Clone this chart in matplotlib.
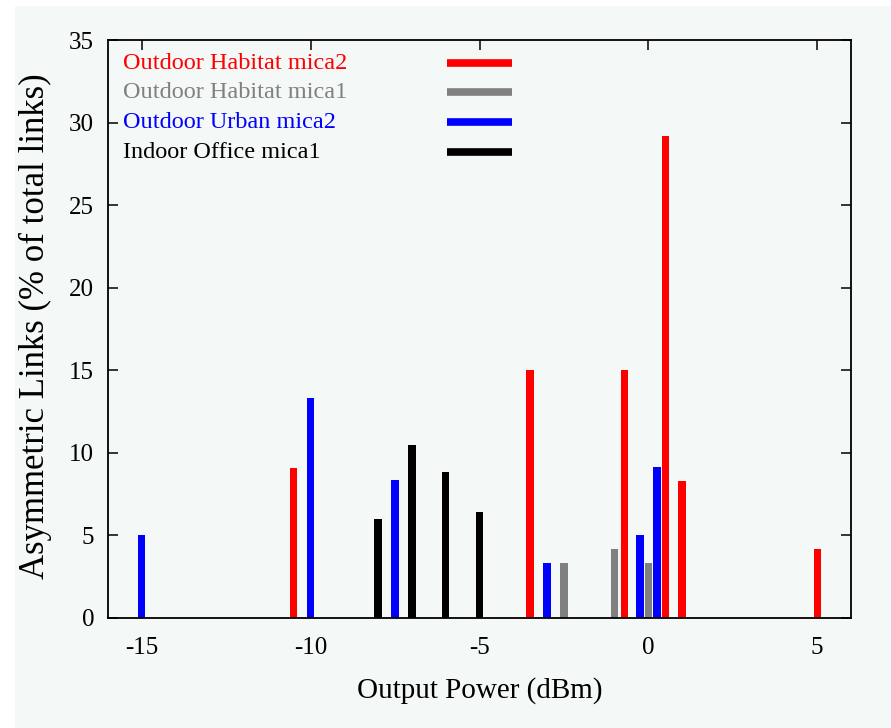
"""Asymmetric links vs output power (impulse-style bars)."""

import matplotlib

matplotlib.use("Agg")
import matplotlib.pyplot as plt
from matplotlib.patches import Rectangle

# data
habitat_mica2_x = [-10.5, -3.5, -0.7, 0.5, 1.0, 5.0]
habitat_mica2_y = [9.1, 15.0, 15.0, 29.2, 8.3, 4.2]

habitat_mica1_x = [-2.5, -1.0, 0.0]
habitat_mica1_y = [3.33, 4.17, 3.33]

urban_mica2_x = [-15.0, -10.0, -7.5, -3.0, -0.25, 0.25]
urban_mica2_y = [5.0, 13.33, 8.33, 3.33, 5.0, 9.17]

office_mica1_x = [-8.0, -7.0, -6.0, -5.0]
office_mica1_y = [6.0, 10.5, 8.85, 6.42]

series_labels = [
    "Outdoor Habitat mica2",
    "Outdoor Habitat mica1",
    "Outdoor Urban mica2",
    "Indoor Office mica1",
]
x_ticks = [-15, -10, -5, 0, 5]
y_ticks = [0, 5, 10, 15, 20, 25, 30, 35]

plt.rcParams["font.family"] = ["Liberation Serif", "DejaVu Serif"]

bg = "#f4f8f6"
colors = ["#ff0000", "#808080", "#0000ff", "#000000"]

fig = plt.figure(figsize=(8.91, 7.28), dpi=100)
fig.patch.set_facecolor("white")
# pale page background, leaving a thin white strip at top and left
fig.patches.append(
    Rectangle((15 / 891, 0), 1, 1 - 6 / 728, transform=fig.transFigure,
              facecolor=bg, edgecolor="none", zorder=-10)
)
ax = fig.add_axes([108 / 891, 1 - 618 / 728, 743 / 891, 578 / 728])
ax.set_facecolor(bg)

series = [
    (habitat_mica2_x, habitat_mica2_y),
    (habitat_mica1_x, habitat_mica1_y),
    (urban_mica2_x, urban_mica2_y),
    (office_mica1_x, office_mica1_y),
]
for (xs, ys), color in zip(series, colors):
    ax.bar(xs, ys, width=0.22, color=color, zorder=2)

ax.set_xlim(-16, 6)
ax.set_ylim(0, 35)
ax.set_xticks(x_ticks, [str(t) for t in x_ticks])
ax.set_yticks(y_ticks)
ax.tick_params(direction="in", length=7, width=1.1, top=True, right=True,
               labelsize=18)
ax.tick_params(axis="x", pad=14)
ax.tick_params(axis="y", pad=10)
for spine in ax.spines.values():
    spine.set_linewidth(1.3)
    spine.set_zorder(3)

ax.set_xlabel("Output Power (dBm)", fontsize=21)
ax.xaxis.set_label_coords(0.5, -0.103)
ax.set_ylabel("Asymmetric Links (% of total links)", fontsize=25)
ax.yaxis.set_label_coords(-0.076, 0.505)

# gnuplot-style key: text on the left, line sample on the right
row_y = [0.960, 0.910, 0.858, 0.806]
for label, color, yy in zip(series_labels, colors, row_y):
    ax.text(0.02, yy, label, color=color, fontsize=17.5, ha="left",
            va="center", transform=ax.transAxes)
    ax.plot([0.456, 0.544], [yy, yy], color=color, linewidth=5.5,
            solid_capstyle="butt", transform=ax.transAxes)

fig.savefig("out.png", dpi=100, facecolor=fig.get_facecolor())
plt.close(fig)
